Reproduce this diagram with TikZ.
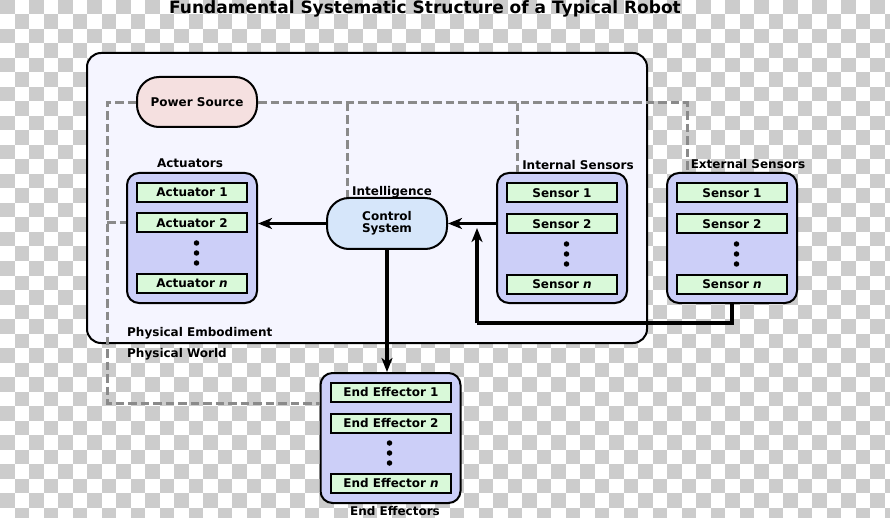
\documentclass[tikz,border=0pt]{standalone}
\usepackage{fontspec}
\setmainfont{DejaVu Sans}
\usetikzlibrary{arrows.meta}
\definecolor{chk}{HTML}{CCCCCC}
\definecolor{embfill}{HTML}{F5F5FF}
\definecolor{grpfill}{HTML}{CCCFF8}
\definecolor{itemfill}{HTML}{D9F9D9}
\definecolor{powfill}{HTML}{F5E0E0}
\definecolor{ctrlfill}{HTML}{D6E6FA}
\definecolor{dashgrey}{HTML}{8A8A8A}
\newcommand{\dfont}{\fontsize{12}{12}\selectfont\bfseries}
\begin{document}
\begin{tikzpicture}[x=1pt,y=-1pt,
  titlestyle/.style={font=\fontsize{17}{17}\selectfont\bfseries, inner sep=0pt},
  lbl/.style={font=\dfont, inner sep=0pt},
  embody/.style={draw, line width=2pt, fill=embfill, rounded corners=14pt, minimum width=560pt, minimum height=290pt, inner sep=0pt},
  grp/.style={draw, line width=2pt, fill=grpfill, rounded corners=12pt, minimum width=130pt, minimum height=130pt, inner sep=0pt},
  itembox/.style={draw, line width=2pt, fill=itemfill, minimum width=110pt, minimum height=19pt, inner sep=0pt, font=\dfont},
  stadium/.style={draw, line width=2pt, rounded corners=22pt, minimum width=120pt, minimum height=50pt, inner sep=0pt, font=\dfont, align=center},
  dotnode/.style={circle, fill=black, inner sep=0pt, minimum size=5.5pt},
  flow/.style={line width=3.7pt, -{Stealth[length=14pt,width=11pt,inset=4pt]}},
  flowline/.style={line width=3.7pt},
  powerline/.style={draw=dashgrey, line width=3pt, dash pattern=on 8.5pt off 4pt}
]
\useasboundingbox (0,0) rectangle (890,518);
% transparency checkerboard
\begin{scope}
\clip (0,0) rectangle (890,518);
\foreach \j in {0,...,36}{
  \pgfmathsetmacro\sh{mod(\j,2)*14.5}
  \foreach \i in {0,...,30}{
    \fill[chk] (\i*29+\sh,\j*14.5) rectangle ++(14.5,14.5);
  }
}
\end{scope}

\node[titlestyle] (title) at (425,8.5) {Fundamental Systematic Structure of a Typical Robot};

\node[embody] (emb) at (367,198) {};
\node[lbl, anchor=west] (embl) at (127,333) {Physical Embodiment};
\node[lbl, anchor=west] (world) at (127,354) {Physical World};

% power source
\node[stadium, fill=powfill] (power) at (197,102) {Power Source};

% groups
\node[grp] (act) at (192,238) {};
\node[grp] (int) at (562,238) {};
\node[grp] (ext) at (732,238) {};
\node[grp, minimum width=140pt] (ee) at (390.5,438) {};

\node[lbl] (actl) at (190,163) {Actuators};
\node[lbl] (intl) at (578,165) {Internal Sensors};
\node[lbl] (extl) at (748,164) {External Sensors};
\node[lbl, anchor=base] (eel) at (395,515) {End Effectors};

% control system
\node[stadium, fill=ctrlfill, minimum height=51pt] (ctrl) at (387,223.5) {Control\\System};
\node[lbl] (intel) at (392,192) {Intelligence};

% items
\node[itembox] (a1) at (192,192.5) {Actuator 1};
\node[itembox] (a2) at (192,223) {Actuator 2};
\node[itembox] (an) at (192,283) {Actuator \textit{n}};
\node[dotnode] (ad1) at (196.5,243) {};
\node[dotnode] (ad2) at (196.5,253) {};
\node[dotnode] (ad3) at (196.5,263) {};

\node[itembox] (is1) at (562,193) {Sensor 1};
\node[itembox] (is2) at (562,224) {Sensor 2};
\node[itembox] (isn) at (562,284) {Sensor \textit{n}};
\node[dotnode] (id1) at (566.5,244) {};
\node[dotnode] (id2) at (566.5,254) {};
\node[dotnode] (id3) at (566.5,264) {};

\node[itembox] (es1) at (732,193) {Sensor 1};
\node[itembox] (es2) at (732,224) {Sensor 2};
\node[itembox] (esn) at (732,284) {Sensor \textit{n}};
\node[dotnode] (ed1) at (736.5,244) {};
\node[dotnode] (ed2) at (736.5,254) {};
\node[dotnode] (ed3) at (736.5,264) {};

\node[itembox, minimum width=120pt] (ee1) at (391,392.5) {End Effector 1};
\node[itembox, minimum width=120pt] (ee2) at (391,423) {End Effector 2};
\node[itembox, minimum width=120pt] (een) at (391,483) {End Effector \textit{n}};
\node[dotnode] (eed1) at (389.5,443) {};
\node[dotnode] (eed2) at (389.5,453) {};
\node[dotnode] (eed3) at (389.5,463) {};

% power distribution (dashed)
\coordinate (pl) at (107,103);
\coordinate (pb) at (107,403);
\coordinate (pr) at (687,103);
\coordinate (pc) at (347,103);
\coordinate (pi) at (517,103);
\draw[powerline] (power.west |- pl) -- (pl) -- (pb) -- (pb -| ee.west);
\draw[powerline] (pl |- a2) -- (act.west |- a2);
\draw[powerline] (power.east |- pr) -- (pr) -- (pr |- ext.north);
\draw[powerline] (pc) -- (pc |- ctrl.north);
\draw[powerline] (pi) -- (pi |- int.north);

% signal flow
\draw[flow] (ctrl.west) -- (ctrl.west -| act.east);
\draw[flow] (int.west |- ctrl.east) -- (ctrl.east);
\draw[flow] (ctrl.south) -- (ctrl.south |- ee.north);
\coordinate (ret) at (477,323);
\coordinate (rettip) at (477,228);
\draw[flowline] (ext.south) -- (ext.south |- ret) -- (ret);
\draw[flow] (ret) -- (rettip);
\end{tikzpicture}
\end{document}
